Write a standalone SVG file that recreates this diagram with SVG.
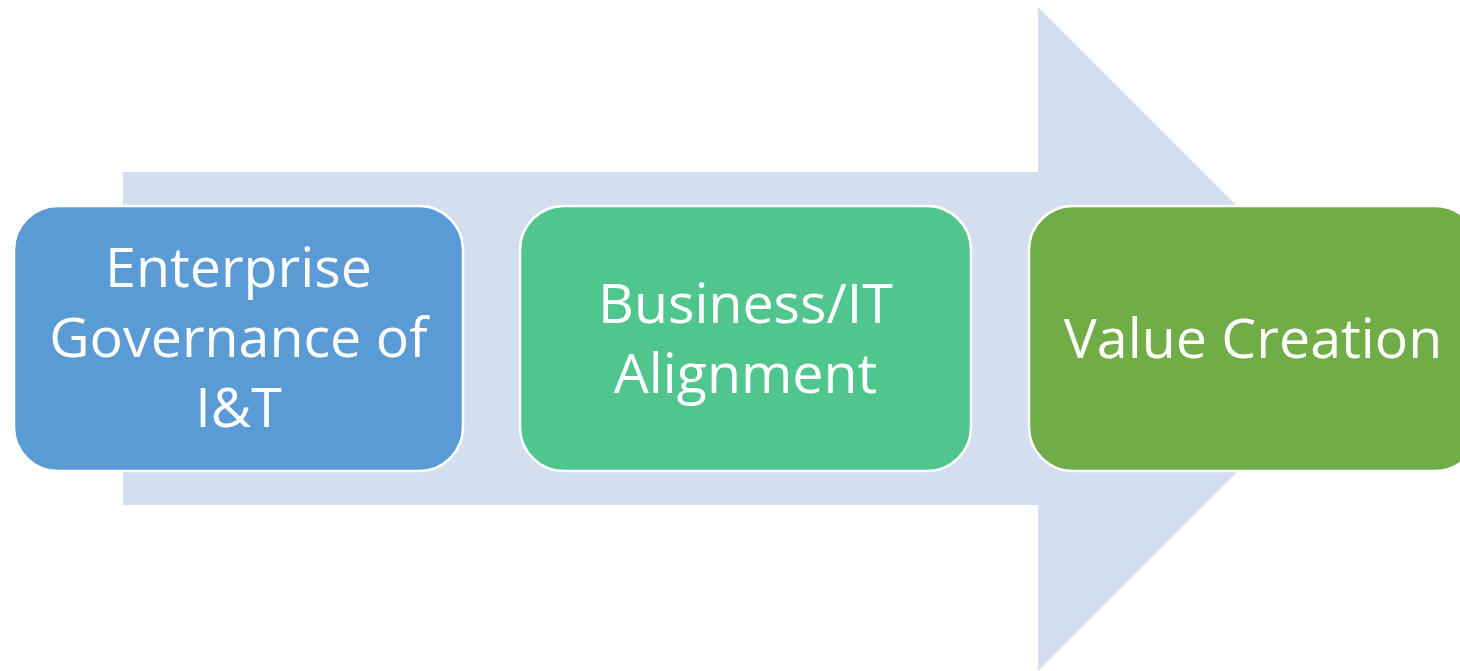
<svg xmlns="http://www.w3.org/2000/svg" width="1460" height="671" viewBox="0 0 1460 671">
<style>
.box{stroke:#ffffff;stroke-width:2.5}
.lbl{font-family:"Open Sans","Liberation Sans",sans-serif;font-size:55.5px;fill:#ffffff;text-anchor:middle}
</style>
<rect width="1460" height="671" fill="#ffffff"/>
<g id="arrow">
<polygon points="123,172 1038,172 1038,7 1370,339 1038,671 1038,505 123,505" fill="#d3deef"/>
</g>
<g id="connectors"></g>
<g id="node-egit">
<rect class="box" x="14" y="206" width="449" height="265" rx="44" fill="#5b9bd5"/>
<text class="lbl" x="238.5" y="287">Enterprise</text>
<text class="lbl" x="238.5" y="357">Governance of</text>
<text class="lbl" x="238.5" y="427">I&amp;T</text>
</g>
<g id="node-align">
<rect class="box" x="520" y="206" width="451" height="265" rx="44" fill="#50c58d"/>
<text class="lbl" x="745.5" y="323">Business/IT</text>
<text class="lbl" x="745.5" y="393">Alignment</text>
</g>
<g id="node-value">
<rect class="box" x="1029" y="206" width="450" height="265" rx="44" fill="#71ad47"/>
<text class="lbl" x="1253" y="358">Value Creation</text>
</g>
</svg>
